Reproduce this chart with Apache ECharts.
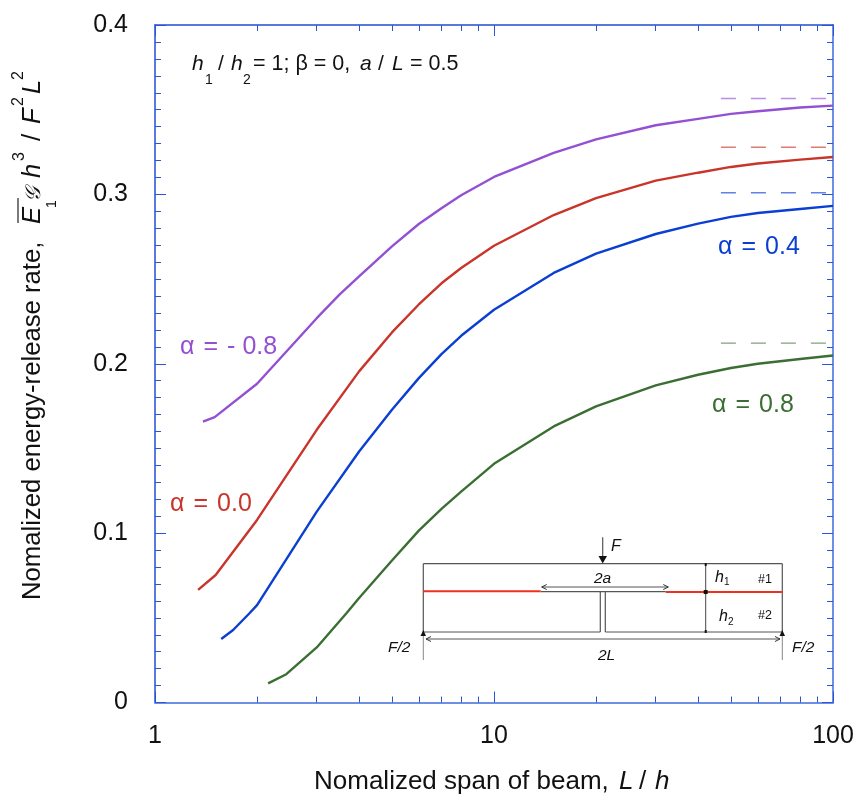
<!DOCTYPE html>
<html>
<head>
<meta charset="utf-8">
<title>Normalized energy-release rate</title>
<style>
html, body { margin: 0; padding: 0; background: #fff; }
#chart { width: 859px; height: 801px; }
</style>
</head>
<body>
<div id="chart"></div>
<script src="https://cdn.jsdelivr.net/npm/echarts@6/dist/echarts.min.js"></script>
<script>
// values
var xTicksMinor = [2, 3, 4, 5, 6, 7, 8, 9, 20, 30, 40, 50, 60, 70, 80, 90];

var spanPurple = [1.385, 1.5, 2, 3, 3.5, 4, 5, 6, 7, 8, 10, 15, 20, 30, 40, 50, 60, 80, 100];
var ratePurple = [0.1659, 0.1685, 0.1882, 0.2269, 0.2408, 0.2516, 0.2693, 0.2825, 0.2918, 0.2995, 0.3103, 0.3245, 0.3325, 0.3408, 0.3446, 0.3475, 0.3491, 0.3513, 0.3524];

var spanRed = [1.34, 1.51, 2, 3, 4, 5, 6, 7, 8, 10, 15, 20, 30, 40, 50, 60, 80, 100];
var rateRed = [0.0665, 0.0753, 0.1078, 0.161, 0.1955, 0.2185, 0.235, 0.2475, 0.2565, 0.2697, 0.2878, 0.2978, 0.3081, 0.3128, 0.3162, 0.3182, 0.3205, 0.3221];

var spanBlue = [1.568, 1.7, 1.9, 2, 3, 4, 5, 6, 7, 8, 10, 15, 20, 30, 40, 50, 60, 80, 100];
var rateBlue = [0.0375, 0.0428, 0.0527, 0.0575, 0.1127, 0.1482, 0.1728, 0.1915, 0.2057, 0.2165, 0.2319, 0.2536, 0.265, 0.2766, 0.2827, 0.2867, 0.289, 0.2914, 0.2932];

var spanGreen = [2.156, 2.44, 3, 3.67, 4, 5, 6, 7, 8, 10, 15, 20, 30, 40, 50, 60, 80, 100];
var rateGreen = [0.0113, 0.0167, 0.0325, 0.0527, 0.0617, 0.0838, 0.1015, 0.1143, 0.1245, 0.1409, 0.163, 0.1748, 0.1872, 0.1935, 0.1975, 0.2, 0.2028, 0.2049];

// asymptotes on the right hand side
var limitSpan = [46.7, 95.9];
var limitPurple = 0.3566;
var limitRed = 0.3278;
var limitBlue = 0.301;
var limitGreen = 0.2122;

var colPurple = '#9350d2';
var colRed = '#c9352a';
var colBlue = '#0a3fd2';
var colGreen = '#3b6e33';
var tickCol = '#2a55d8';
var FONT = '"Liberation Sans", Arial, sans-serif';

function pairs(xs, ys) {
    return xs.map(function (x, i) { return [x, ys[i]]; });
}

function curve(name, xs, ys, color) {
    return {
        name: name, type: 'line', data: pairs(xs, ys), showSymbol: false, symbol: 'none',
        silent: true, lineStyle: { color: color, width: 2.4 }, itemStyle: { color: color }
    };
}

function limit(name, value, color) {
    return {
        name: name, type: 'line', data: pairs(limitSpan, [value, value]), showSymbol: false, symbol: 'none',
        silent: true, lineStyle: { color: color, width: 1.4, opacity: 0.65, type: [15, 15] }
    };
}

// text by its baseline, rot = true for text running upward
function txt(str, x, y, size, opts) {
    opts = opts || {};
    var rot = opts.rot;
    return {
        type: 'text',
        x: rot ? x - size * 0.35 : x,
        y: rot ? y : y - size * 0.35,
        rotation: rot ? Math.PI / 2 : 0,
        z: 20,
        style: {
            text: str, fill: opts.color || '#111',
            font: (opts.italic ? 'italic ' : '') + size + 'px ' + FONT,
            align: opts.align || 'left', verticalAlign: 'middle'
        }
    };
}

function seg(x1, y1, x2, y2, color, width) {
    return {
        type: 'line', z: 18,
        shape: { x1: x1, y1: y1, x2: x2, y2: y2 },
        style: { stroke: color || '#555', lineWidth: width || 1.2 }
    };
}

function tri(pts, color) {
    return { type: 'polygon', z: 19, shape: { points: pts }, style: { fill: color || '#111' } };
}

// left/right arrow heads for the dimension lines
function dim(x1, x2, y) {
    return [
        seg(x1, y, x2, y, '#555', 1),
        seg(x1, y, x1 + 5, y - 2.5, '#333', 1), seg(x1, y, x1 + 5, y + 2.5, '#333', 1),
        seg(x2, y, x2 - 5, y - 2.5, '#333', 1), seg(x2, y, x2 - 5, y + 2.5, '#333', 1)
    ];
}

var inset = [].concat(
    seg(423.3, 563.7, 782.3, 563.7),
    seg(423.3, 563.7, 423.3, 632),
    seg(782.3, 563.7, 782.3, 632),
    seg(423.3, 632, 600.3, 632),
    seg(605.3, 632, 782.3, 632),
    seg(600.3, 592, 600.3, 632),
    seg(605.3, 592, 605.3, 632),
    seg(540.7, 591.7, 665.7, 591.7),
    seg(423.3, 591.3, 540.7, 591.3, '#f0301e', 2),
    seg(665.7, 592, 782.3, 592, '#f0301e', 2),
    seg(602.7, 537.3, 602.7, 556),
    tri([[598.5, 556], [607, 556], [602.7, 563.5]]),
    dim(541.7, 668.3, 587),
    dim(426, 780, 639),
    seg(705.7, 564, 705.7, 632, '#444', 1),
    tri([[703.7, 590], [707.7, 590], [707.7, 594], [703.7, 594]]),
    tri([[704.7, 563], [706.7, 563], [706.7, 566], [704.7, 566]]),
    tri([[704.7, 630], [706.7, 630], [706.7, 633], [704.7, 633]]),
    tri([[423.3, 630], [420.5, 636], [426, 636]]),
    tri([[782.3, 630], [779.5, 636], [785, 636]]),
    seg(423.3, 636, 423.3, 660, '#888', 1),
    seg(782.3, 636, 782.3, 660, '#888', 1),
    txt('F', 611, 552, 16, { italic: true }),
    txt('2a', 594, 584, 15.5, { italic: true }),
    txt('2L', 598, 661, 15.5, { italic: true }),
    txt('h', 715, 583, 16, { italic: true }),
    txt('1', 724, 586, 10),
    txt('h', 719, 622, 16, { italic: true }),
    txt('2', 728, 626, 10),
    txt('#1', 758, 584, 12.5),
    txt('#2', 758, 620, 12.5),
    txt('F/2', 792, 653, 15.5, { italic: true }),
    txt('F/2', 388, 653, 15.5, { italic: true })
);

var header = [
    txt('h', 192, 72, 21, { italic: true }),
    txt('1', 205, 85, 14),
    txt('/', 218, 72, 21),
    txt('h', 231, 72, 21, { italic: true }),
    txt('2', 243, 85, 14),
    txt('= 1; β = 0,', 253, 72, 21.5),
    txt('a', 360, 72, 21, { italic: true }),
    txt('/', 378, 72, 21),
    txt('L', 392, 72, 21, { italic: true }),
    txt('= 0.5', 410, 72, 21.5)
];

var yTitle = [
    txt('Nomalized energy-release rate,', 42, 600, 25.7, { rot: true }),
    txt('E', 42, 224, 25.7, { rot: true, italic: true }),
    seg(18, 198, 18, 223, '#222', 1.2),
    txt('1', 57, 208, 14, { rot: true }),
    txt('𝒢', 42, 202, 21, { rot: true, italic: true }),
    txt('h', 42, 178, 25.7, { rot: true, italic: true }),
    txt('3', 25, 161, 16, { rot: true }),
    txt('/', 42, 141, 25.7, { rot: true }),
    txt('F', 42, 124, 25.7, { rot: true, italic: true }),
    txt('2', 24, 106, 16, { rot: true }),
    txt('L', 42, 94, 25.7, { rot: true, italic: true }),
    txt('2', 24, 80, 16, { rot: true })
];

var xTitle = [
    txt('Nomalized span of beam,', 314, 791, 26),
    txt('L', 619, 791, 26, { italic: true }),
    txt('/', 639, 791, 26),
    txt('h', 655, 791, 26, { italic: true })
];

var curveLabels = [
    txt('α\u200A = \u200A- 0.8', 180, 356, 25, { color: colPurple }),
    txt('α\u200A = \u200A0.0', 170, 513, 25, { color: colRed }),
    txt('α\u200A = \u200A0.4', 718, 256, 25, { color: colBlue }),
    txt('α\u200A = \u200A0.8', 712, 414, 25, { color: colGreen })
];

function xAxisBase(position, lineCol, lineWidth) {
    return {
        type: 'log', logBase: 10, min: 1, max: 100, position: position,
        splitLine: { show: false },
        axisLine: { show: true, onZero: false, lineStyle: { color: lineCol, width: lineWidth } },
        axisTick: { show: true, inside: true, length: 11, lineStyle: { color: tickCol, width: 1 } },
        minorTick: { show: false },
        axisLabel: { show: false }
    };
}

function xAxisMinor(position) {
    var a = xAxisBase(position, tickCol, 1);
    a.axisLine.show = false;
    a.axisTick.length = 6;
    a.axisTick.customValues = xTicksMinor;
    return a;
}

function yAxisBase(position, lineCol, lineWidth) {
    return {
        type: 'value', min: 0, max: 0.4, interval: 0.1, position: position,
        splitLine: { show: false }, minorSplitLine: { show: false },
        axisLine: { show: true, onZero: false, lineStyle: { color: lineCol, width: lineWidth } },
        axisTick: { show: true, inside: true, length: 11, lineStyle: { color: tickCol, width: 1 } },
        minorTick: { show: true, splitNumber: 10, length: 6, lineStyle: { color: tickCol, width: 1 } },
        axisLabel: { show: false }
    };
}

var xBottom = xAxisBase('bottom', '#6f8fe6', 2);
xBottom.axisLabel = {
    show: true, color: '#111', fontSize: 25, fontFamily: FONT, margin: 21, showMinLabel: true, showMaxLabel: true,
    formatter: function (v) { return String(Math.round(v)); }
};

var yLeft = yAxisBase('left', '#2050d2', 1.5);
yLeft.axisLabel = {
    show: true, color: '#111', fontSize: 25, fontFamily: FONT, margin: 27, padding: [0, 0, 6, 0],
    formatter: function (v) { return v === 0 ? '0' : v.toFixed(1); }
};

var app = echarts.init(document.getElementById('chart'), null, { renderer: 'canvas' });

var option = {
    animation: false,
    backgroundColor: '#fff',
    grid: { left: 155, right: 26, top: 25, bottom: 98.5, containLabel: false },
    xAxis: [xBottom, xAxisBase('top', '#2050d2', 1.5), xAxisMinor('bottom'), xAxisMinor('top')],
    yAxis: [yLeft, yAxisBase('right', '#6f8fe6', 2)],
    series: [
        curve('alpha -0.8', spanPurple, ratePurple, colPurple),
        curve('alpha 0.0', spanRed, rateRed, colRed),
        curve('alpha 0.4', spanBlue, rateBlue, colBlue),
        curve('alpha 0.8', spanGreen, rateGreen, colGreen),
        limit('limit -0.8', limitPurple, colPurple),
        limit('limit 0.0', limitRed, colRed),
        limit('limit 0.4', limitBlue, colBlue),
        limit('limit 0.8', limitGreen, colGreen)
    ],
    graphic: { elements: [].concat(header, yTitle, xTitle, curveLabels, inset) }
};
app.setOption(option);
</script>
</body>
</html>
